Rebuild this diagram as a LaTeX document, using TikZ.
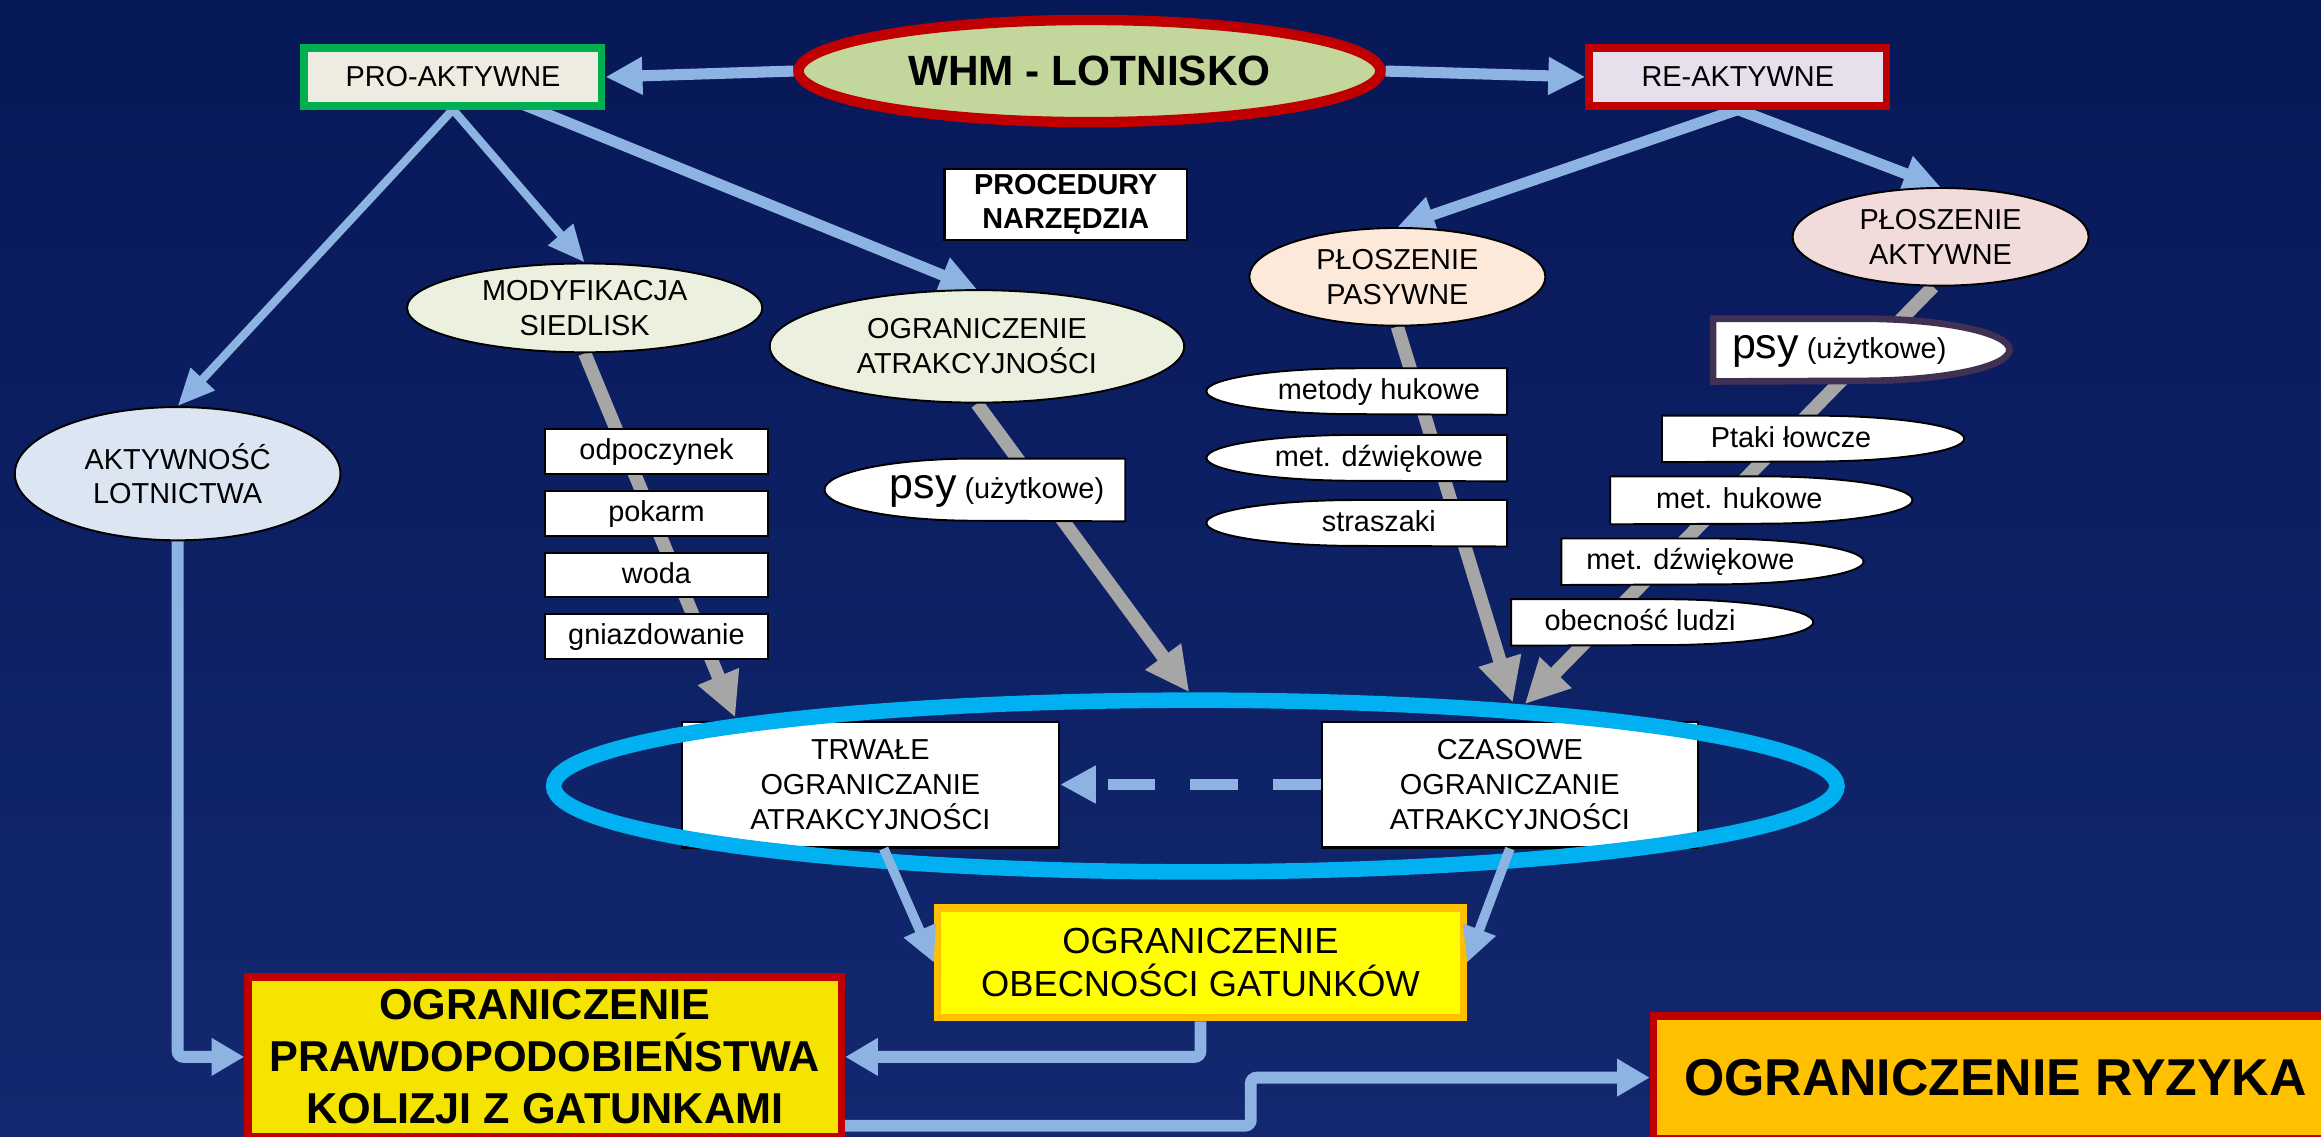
\documentclass[tikz,border=0pt]{standalone}
\usepackage{fontspec}
\setmainfont{Liberation Sans}
\usetikzlibrary{arrows.meta,shapes.geometric,calc}
\pgfdeclarelayer{bgl}
\pgfdeclarelayer{conn}
\pgfdeclarelayer{boxes}
\pgfdeclarelayer{top}
\pgfdeclarelayer{over}
\pgfsetlayers{bgl,conn,boxes,main,top,over}
\definecolor{bgT}{RGB}{7,24,88}
\definecolor{bgM}{RGB}{14,34,105}
\definecolor{bgBot}{RGB}{19,40,112}
\definecolor{lblue}{RGB}{141,179,226}
\definecolor{agray}{RGB}{166,166,166}
\definecolor{cyanR}{RGB}{0,176,240}
\definecolor{redB}{RGB}{192,0,0}
\definecolor{greenB}{RGB}{0,176,80}
\definecolor{whmF}{RGB}{195,214,155}
\definecolor{proF}{RGB}{238,236,225}
\definecolor{reF}{RGB}{229,224,236}
\definecolor{modF}{RGB}{235,241,222}
\definecolor{aktF}{RGB}{220,230,242}
\definecolor{ppasF}{RGB}{253,233,217}
\definecolor{paktF}{RGB}{242,220,219}
\definecolor{yel}{RGB}{255,255,0}
\definecolor{orangeB}{RGB}{255,192,0}
\definecolor{prawdF}{RGB}{245,228,0}
\definecolor{ryzF}{RGB}{255,192,0}
\definecolor{psyB}{RGB}{64,49,82}

% delay-like shapes: rounded on the left / on the right
\newcommand\dshapeL[7]{%
  \node[dtxt,minimum width=#5pt,minimum height=#6pt] (#2) at (#3,#4) {\hspace*{30pt}#7};
  \begin{pgfonlayer}{boxes}
    \draw[dline,#1] (#2.north east) -- (#2.north)
      arc[start angle=-90,end angle=-270,x radius=#5/2,y radius=#6/2]
      -- (#2.south east) -- cycle;
  \end{pgfonlayer}}
\newcommand\dshapeR[7]{%
  \node[dtxt,minimum width=#5pt,minimum height=#6pt] (#2) at (#3,#4) {#7\hspace*{30pt}};
  \begin{pgfonlayer}{boxes}
    \draw[dline,#1] (#2.north west) -- (#2.north)
      arc[start angle=-90,end angle=90,x radius=#5/2,y radius=#6/2]
      -- (#2.south west) -- cycle;
  \end{pgfonlayer}}

\begin{document}
\begin{tikzpicture}[x=1pt,y=-1pt,
  txt/.style={text=black,align=center,font=\fontsize{19.5}{23.5}\selectfont},
  ellnode/.style={ellipse,draw=black,line width=1.3pt,inner sep=-4pt,txt},
  rbox/.style={rectangle,inner sep=0pt,txt},
  sbox/.style={rectangle,draw=black,line width=1.3pt,fill=white,inner sep=0pt,
    minimum width=151pt,minimum height=30pt,txt,text height=14pt,text depth=3pt},
  dtxt/.style={rectangle,inner sep=0pt,txt,text height=14pt,text depth=3pt},
  dline/.style={draw=black,line width=1.3pt,fill=white},
  barrow/.style={draw=lblue,line width=5.6pt,-{Triangle[width=21pt,length=25pt]}},
  barrowB/.style={draw=lblue,line width=7.5pt,-{Triangle[width=24pt,length=25pt]}},
  garrow/.style={draw=agray,line width=9pt,-{Triangle[width=28pt,length=30pt]}},
  larrow/.style={draw=lblue,line width=8pt,rounded corners=4pt,-{Triangle[width=24pt,length=22pt]}},
  tarrow/.style={draw=lblue,line width=6.5pt,-{Triangle[width=22pt,length=24pt]}},
  darrow/.style={draw=lblue,line width=8pt,dash pattern=on 32pt off 24pt,-{Triangle[width=24pt,length=24pt]}},
]
\useasboundingbox (0,0) rectangle (1568,768);
\begin{pgfonlayer}{bgl}
  \shade[top color=bgT,middle color=bgM,bottom color=bgBot] (0,0) rectangle (1568,768);
\end{pgfonlayer}

% top level
\node[ellnode,fill=whmF,draw=redB,line width=7pt,minimum width=393pt,minimum height=69pt,
  font=\bfseries\fontsize{28.6}{30}\selectfont] (whm) at (736,48) {WHM - LOTNISKO};
\node[rbox,fill=proF,draw=greenB,line width=5pt,minimum width=201pt,minimum height=39pt] (pro) at (306,52) {PRO-AKTYWNE};
\node[rbox,fill=reF,draw=redB,line width=5pt,minimum width=201pt,minimum height=39pt] (re) at (1174,52) {RE-AKTYWNE};
\node[rbox,fill=white,draw=black,line width=1.5pt,minimum width=164pt,minimum height=48pt,
  font=\bfseries\fontsize{19.5}{23}\selectfont] (proc) at (720,138) {PROCEDURY\\NARZĘDZIA};

% second level ellipses
\node[ellnode,fill=modF,minimum width=240pt,minimum height=60pt] (mod) at (395,208) {MODYFIKACJA\\SIEDLISK};
\node[ellnode,fill=modF,minimum width=280pt,minimum height=76pt] (ogra) at (660,234) {OGRANICZENIE\\ATRAKCYJNOŚCI};
\node[ellnode,fill=aktF,minimum width=220pt,minimum height=90pt] (akt) at (120,320) {AKTYWNOŚĆ\\LOTNICTWA};
\node[ellnode,fill=ppasF,minimum width=200pt,minimum height=66pt] (ppas) at (944,187) {PŁOSZENIE\\PASYWNE};
\node[ellnode,fill=paktF,minimum width=200pt,minimum height=66pt] (pakt) at (1311,160) {PŁOSZENIE\\AKTYWNE};

% small boxes
\node[sbox] (odp) at (443.5,305) {odpoczynek};
\node[sbox] (pok) at (443.5,347) {pokarm};
\node[sbox] (woda) at (443.5,388.5) {woda};
\node[sbox] (gniazd) at (443.5,430) {gniazdowanie};

\dshapeL{}{psyL}{658.5}{331}{203}{42}{{\fontsize{29}{30}\selectfont psy} (użytkowe)}
\dshapeL{}{mh}{916.5}{264.5}{203}{31}{metody hukowe}
\dshapeL{}{md}{916.5}{309.5}{203}{31}{met. dźwiękowe}
\dshapeL{}{str}{916.5}{353.5}{203}{31}{straszaki}
\dshapeR{draw=psyB,line width=4.5pt}{psyR}{1257.5}{236.5}{200}{42}{{\fontsize{29}{30}\selectfont psy} (użytkowe)}
\dshapeR{}{ptaki}{1225}{296.5}{204}{31}{Ptaki łowcze}
\dshapeR{}{mhR}{1190}{338}{204}{32}{met. hukowe}
\dshapeR{}{mdR}{1157}{379.5}{204}{31}{met. dźwiękowe}
\dshapeR{}{obl}{1123}{420.5}{204}{31}{obecność ludzi}

% middle boxes
\node[rbox,fill=white,draw=black,line width=1.5pt,minimum width=255pt,minimum height=85pt] (trw) at (588,530) {TRWAŁE\\OGRANICZANIE\\ATRAKCYJNOŚCI};
\node[rbox,fill=white,draw=black,line width=1.5pt,minimum width=254pt,minimum height=85pt] (czas) at (1020,530) {CZASOWE\\OGRANICZANIE\\ATRAKCYJNOŚCI};
\begin{pgfonlayer}{top}
  \node[ellipse,draw=cyanR,line width=10.5pt,minimum width=867pt,minimum height=116pt,inner sep=0pt] (ring) at (807.5,531) {};
\end{pgfonlayer}

% bottom boxes
\node[rbox,fill=yel,draw=orangeB,line width=5pt,minimum width=355pt,minimum height=74pt,
  font=\fontsize{24.5}{29}\selectfont] (ogrobec) at (811,650.5) {OGRANICZENIE\\OBECNOŚCI GATUNKÓW};
\node[rbox,fill=prawdF,draw=redB,line width=5pt,minimum width=401pt,minimum height=108pt,
  font=\bfseries\fontsize{29.2}{35}\selectfont] (prawd) at (368,714) {OGRANICZENIE\\PRAWDOPODOBIEŃSTWA\\KOLIZJI Z GATUNKAMI};
\node[rbox,fill=ryzF,draw=redB,line width=5pt,minimum width=462pt,minimum height=83pt,
  font=\bfseries\fontsize{35}{40}\selectfont] (ryz) at (1348,728) {OGRANICZENIE RYZYKA};

% connectors
\begin{pgfonlayer}{conn}
  \draw[barrowB] (whm.west) -- (pro.east);
  \draw[barrowB] (whm.east) -- (re.west);
  \draw[barrow] (pro.south) -- (akt.north);
  \draw[barrow] (pro.south) -- (mod.north);
  \draw[barrowB] ($(pro.south)+(46,-4)$) -- (ogra.north);
  \draw[barrowB] (re.south) -- (ppas.north);
  \draw[barrowB] (re.south) -- (pakt.north);
  \draw[garrow] (mod.south) -- ($(trw.north west)+(37,-2)$);
  \draw[garrow] (ogra.south) -- ($(ring.north)+(-4,0)$);
  \draw[garrow] (ppas.south) -- ($(czas.north)+(2,-12)$);
  \draw[garrow] ($(pakt.south)+(-5,0)$) -- ($(czas.north)+(10,-11)$);
  \draw[larrow] (akt.south) |- (prawd.west);
  \draw[larrow] (ogrobec.south) |- (prawd.east);
  \draw[larrow] ($(prawd.south east)+(0,-10)$) -- ++(274,0) |- (ryz.west);
\end{pgfonlayer}
\begin{pgfonlayer}{over}
  \draw[darrow] (czas.west) -- (trw.east);
  \draw[tarrow] ($(trw.south)+(9,0)$) -- (ogrobec.west);
  \draw[tarrow] (czas.south) -- (ogrobec.east);
\end{pgfonlayer}
\end{tikzpicture}
\end{document}
